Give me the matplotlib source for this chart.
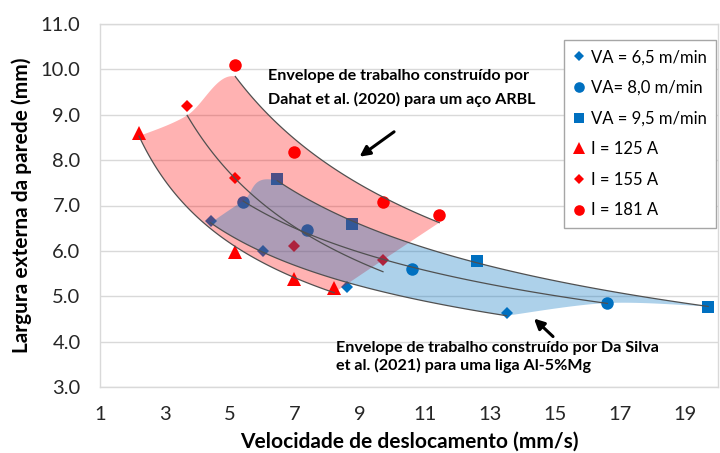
import numpy as np
import matplotlib
matplotlib.use("Agg")
import matplotlib.pyplot as plt
from matplotlib.lines import Line2D

plt.rcParams['font.family'] = ['Lato', 'DejaVu Sans']

# ---- data: travel speed (mm/s) vs external wall width (mm) ----
va65_x = [4.4, 6.0, 8.6, 13.5]
va65_y = [6.65, 6.0, 5.2, 4.62]
va80_x = [5.4, 7.36, 10.6, 16.6]
va80_y = [7.07, 6.45, 5.6, 4.85]
va95_x = [6.45, 8.75, 12.6, 19.7]
va95_y = [7.58, 6.6, 5.77, 4.77]

i125_x = [2.2, 5.15, 6.96, 8.2]
i125_y = [8.6, 5.97, 5.38, 5.18]
i155_x = [3.68, 5.16, 6.95, 9.7]
i155_y = [9.2, 7.6, 6.1, 5.8]
i181_x = [5.16, 6.96, 9.7, 11.43]
i181_y = [10.1, 8.18, 7.07, 6.8]

labels = ["VA = 6,5 m/min", "VA= 8,0 m/min", "VA = 9,5 m/min",
          "I = 125 A", "I = 155 A", "I = 181 A"]
x_ticks = [1, 3, 5, 7, 9, 11, 13, 15, 17, 19]
y_ticks = [3.0, 4.0, 5.0, 6.0, 7.0, 8.0, 9.0, 10.0, 11.0]

BLUE = "#0070C0"
RED = "#FF0000"
TREND = "#505050"
GRID = "#D9D9D9"

fig = plt.figure(figsize=(7.2, 4.53), dpi=100)
ax = fig.add_axes([100/720, 1-387/453, 618/720, 363/453])
ax.set_xlim(1, 20)
ax.set_ylim(3, 11)


def power_fit(x, y):
    b, lna = np.polyfit(np.log(x), np.log(y), 1)
    return lambda v: np.exp(lna) * np.asarray(v) ** b


def trend_xy(x, n=120):
    return np.linspace(min(x), max(x), n)


def catmull(points, pre, post, n=50):
    """Smooth curve through points (display space), with given neighbour points."""
    P = ax.transData.transform(np.vstack([pre, points, post]))
    segs = []
    t = np.linspace(0, 1, n)[:, None]
    for i in range(1, len(P) - 2):
        p0, p1, p2, p3 = P[i-1], P[i], P[i+1], P[i+2]
        seg = 0.5 * (2*p1 + (-p0 + p2)*t + (2*p0 - 5*p1 + 4*p2 - p3)*t**2
                     + (-p0 + 3*p1 - 3*p2 + p3)*t**3)
        segs.append(seg)
    return ax.transData.inverted().transform(np.vstack(segs))


series = [
    (va65_x, va65_y, 'D', BLUE, 6.5),
    (va80_x, va80_y, 'o', BLUE, 9),
    (va95_x, va95_y, 's', BLUE, 8),
    (i125_x, i125_y, '^', RED, 9.5),
    (i155_x, i155_y, 'D', RED, 6.5),
    (i181_x, i181_y, 'o', RED, 9),
]

fits = [power_fit(x, y) for x, y, *_ in series]

# markers (drawn beneath the translucent envelopes)
for x, y, m, c, ms in series:
    ax.plot(x, y, linestyle='none', marker=m, color=c, markersize=ms,
            markeredgewidth=0, zorder=2)


def envelope(lo, mid, hi, f_lo, f_mid, f_hi):
    """Closed outline bounded by the low and high trends, closed with smooth edges."""
    lo_x = lo[0]
    mid_x, mid_y = mid
    hi_x = hi[0]
    a = (min(lo_x), float(f_lo(min(lo_x))))
    b = (min(mid_x), float(f_mid(min(mid_x))))
    c = (min(hi_x), float(f_hi(min(hi_x))))
    c_next_x = min(hi_x) + 0.3 * (max(hi_x) - min(hi_x))
    c_next = (c_next_x, float(f_hi(c_next_x)))
    left = catmull([a, b, c], a, c_next)

    xs_hi = trend_xy(hi_x)
    top = np.column_stack([xs_hi, f_hi(xs_hi)])

    d = (max(hi_x), float(f_hi(max(hi_x))))
    e = (mid_x[-1], mid_y[-1])
    g = (max(lo_x), float(f_lo(max(lo_x))))
    right = catmull([d, e, g], d, g)

    xs_lo = trend_xy(lo_x)[::-1]
    bottom = np.column_stack([xs_lo, f_lo(xs_lo)])
    return np.vstack([left, top, right, bottom])


red_env = envelope((i125_x, i125_y), (i155_x, i155_y), (i181_x, i181_y),
                   fits[3], fits[4], fits[5])
blue_env = envelope((va65_x, va65_y), (va80_x, va80_y), (va95_x, va95_y),
                    fits[0], fits[1], fits[2])

ax.fill(red_env[:, 0], red_env[:, 1], color=RED, alpha=0.30, lw=0, zorder=3)
ax.fill(blue_env[:, 0], blue_env[:, 1], color=BLUE, alpha=0.32, lw=0, zorder=3)

# power-law trend lines
for (x, y, *_), f in zip(series, fits):
    xs = trend_xy(x)
    ax.plot(xs, f(xs), color=TREND, lw=0.9, zorder=4)

# axes styling
ax.set_xticks(x_ticks)
ax.set_yticks(y_ticks)
ax.set_yticklabels([f"{v:.1f}" for v in y_ticks])
ax.tick_params(axis='both', length=0, labelsize=14.5, colors='#262626')
ax.tick_params(axis='y', pad=14)
ax.tick_params(axis='x', pad=14)
ax.grid(axis='y', color=GRID, lw=1.0, zorder=0)
ax.set_axisbelow(True)
for s in ax.spines.values():
    s.set_color(GRID)
    s.set_linewidth(1.0)

ax.set_xlabel("Velocidade de deslocamento (mm/s)", fontsize=15,
              fontweight='bold', labelpad=6)
ax.set_ylabel("Largura externa da parede (mm)", fontsize=15,
              fontweight='bold', labelpad=6)

# annotations
ax.text(6.15, 10.0, "Envelope de trabalho construído por\nDahat et al. (2020) para um aço ARBL",
        fontsize=11.6, fontweight='bold', va='top', ha='left', linespacing=1.75,
        zorder=6)
ax.annotate("", xy=(8.91, 8.04), xytext=(10.11, 8.66),
            arrowprops=dict(arrowstyle='-|>,head_length=0.6,head_width=0.3',
                            color='black', lw=2.2), zorder=6)
ax.text(8.27, 4.02, "Envelope de trabalho construído por Da Silva\net al. (2021) para uma liga Al-5%Mg",
        fontsize=11.6, fontweight='bold', va='top', ha='left', linespacing=1.3,
        zorder=6)
ax.annotate("", xy=(14.28, 4.55), xytext=(14.99, 4.07),
            arrowprops=dict(arrowstyle='-|>,head_length=0.6,head_width=0.3',
                            color='black', lw=2.2), zorder=6)

# legend
handles = [Line2D([], [], linestyle='none', marker=m, color=c,
                  markersize=ms * 0.85, markeredgewidth=0)
           for _, _, m, c, ms in series]
leg = ax.legend(handles, labels, loc='upper right', bbox_to_anchor=(0.997, 0.956),
                fontsize=12, frameon=True, fancybox=False, framealpha=1,
                edgecolor='#A6A6A6', labelspacing=0.88, handlelength=0.8,
                handletextpad=0.3, borderpad=0.55, borderaxespad=0)
leg.get_frame().set_linewidth(1.0)
leg.set_zorder(7)

fig.savefig("out.png", dpi=100)
